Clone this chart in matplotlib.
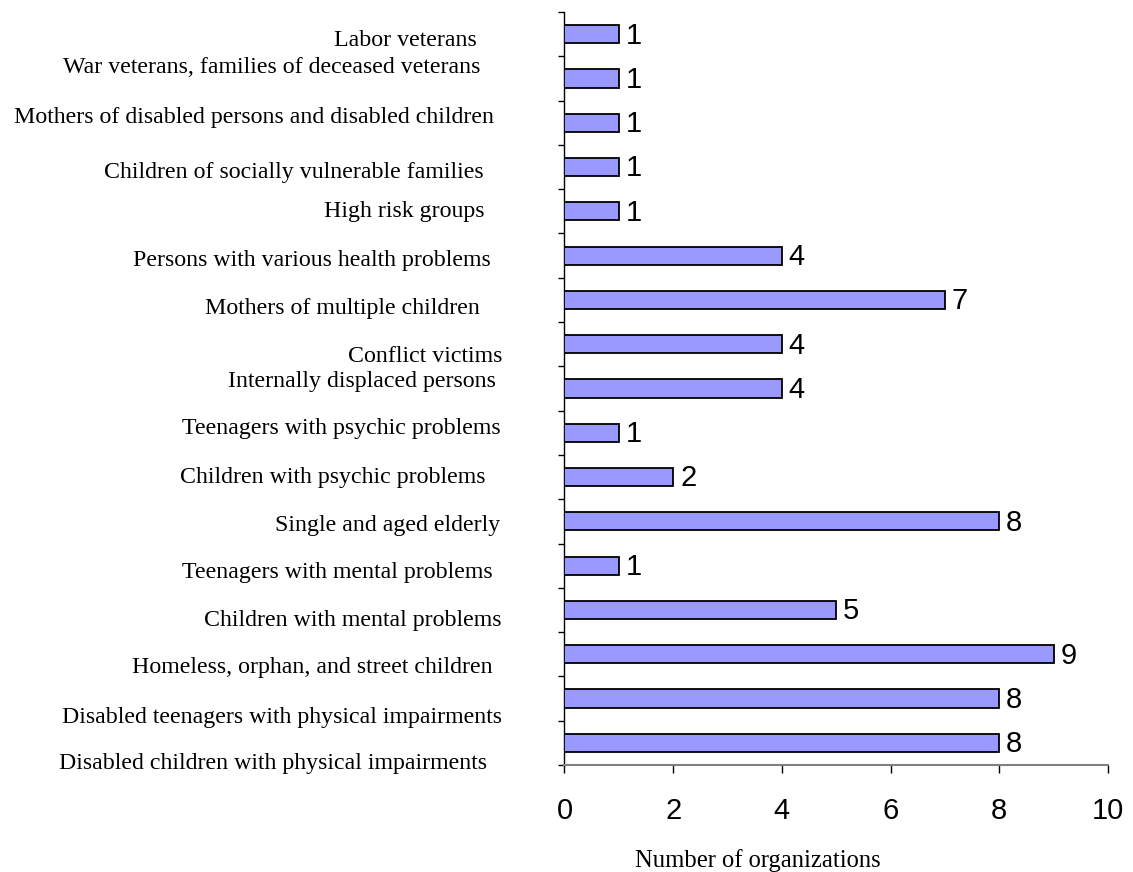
import matplotlib
matplotlib.use("Agg")
import matplotlib.pyplot as plt
import numpy as np

# Target groups, listed top to bottom
groups = [
    "Labor veterans",
    "War veterans, families of deceased veterans",
    "Mothers of disabled persons and disabled children",
    "Children of socially vulnerable families",
    "High risk groups",
    "Persons with various health problems",
    "Mothers of multiple children",
    "Conflict victims",
    "Internally displaced persons",
    "Teenagers with psychic problems",
    "Children with psychic problems",
    "Single and aged elderly",
    "Teenagers with mental problems",
    "Children with mental problems",
    "Homeless, orphan, and street children",
    "Disabled teenagers with physical impairments",
    "Disabled children with physical impairments",
]
organizations = [1, 1, 1, 1, 1, 4, 7, 4, 4, 1, 2, 8, 1, 5, 9, 8, 8]
xticks = [0, 2, 4, 6, 8, 10]
xlabel = "Number of organizations"

# Per-label nudges of the category text (pixels): horizontal shift, baseline drop
label_dx_px = [-25, -22, -8, -18, -17, -11, -22, 0, -6, -1, -16, -2, -9, 0, -9, 0, -15]
label_drop_px = [12, -5, 0, 11, 6, 10, 14, 18, -2, 1, 6, 10, 12, 16, 19, 24, 26]

serif = "Liberation Serif"
sans = "Liberation Sans"
PX = 72.0 / 100.0  # points per pixel at 100 dpi

fig = plt.figure(figsize=(11.33, 8.72), dpi=100)
ax = fig.add_axes([0.4982, 0.1227, 0.4797, 0.8635])

y = np.arange(len(groups))
ax.barh(y, organizations, height=0.41, color="#9999FF", edgecolor="black",
        linewidth=1.3, zorder=3)

ax.set_xlim(0, 10)
ax.set_ylim(len(groups) - 0.5, -0.5)

# Value labels next to bar ends
for yi, v in zip(y, organizations):
    ax.annotate(str(v), xy=(v, yi), xytext=(5, -1), textcoords="offset points",
                ha="left", va="center", fontsize=21, family=sans, color="black")

# Category labels left of the axis
for yi, name, dx, drop in zip(y, groups, label_dx_px, label_drop_px):
    ax.annotate(name, xy=(0, yi), xycoords=ax.get_yaxis_transform(),
                xytext=((-62.5 + dx) * PX, -drop * PX), textcoords="offset points",
                ha="right", va="baseline", fontsize=17.2, family=serif, color="black",
                annotation_clip=False)

# Axes styling
ax.set_yticks([])
ax.set_yticks(np.arange(-0.5, len(groups), 1.0), minor=True)
ax.tick_params(axis="y", which="minor", direction="out", length=4.5, width=1,
               color="black")
ax.set_xticks(xticks)
ax.set_xticklabels([str(t) for t in xticks], fontsize=21, family=sans)
ax.tick_params(axis="x", which="major", direction="out", length=6, width=1,
               color="black", pad=17)

for side in ("top", "right"):
    ax.spines[side].set_visible(False)
ax.spines["left"].set_color("black")
ax.spines["left"].set_linewidth(1.0)
ax.spines["bottom"].set_color("#808080")
ax.spines["bottom"].set_linewidth(1.5)

ax.set_xlabel(xlabel, fontsize=17.7, family=serif)
ax.xaxis.set_label_coords(0.356, -0.127)
ax.xaxis.label.set_va("center")

fig.savefig("out.png", dpi=100)
